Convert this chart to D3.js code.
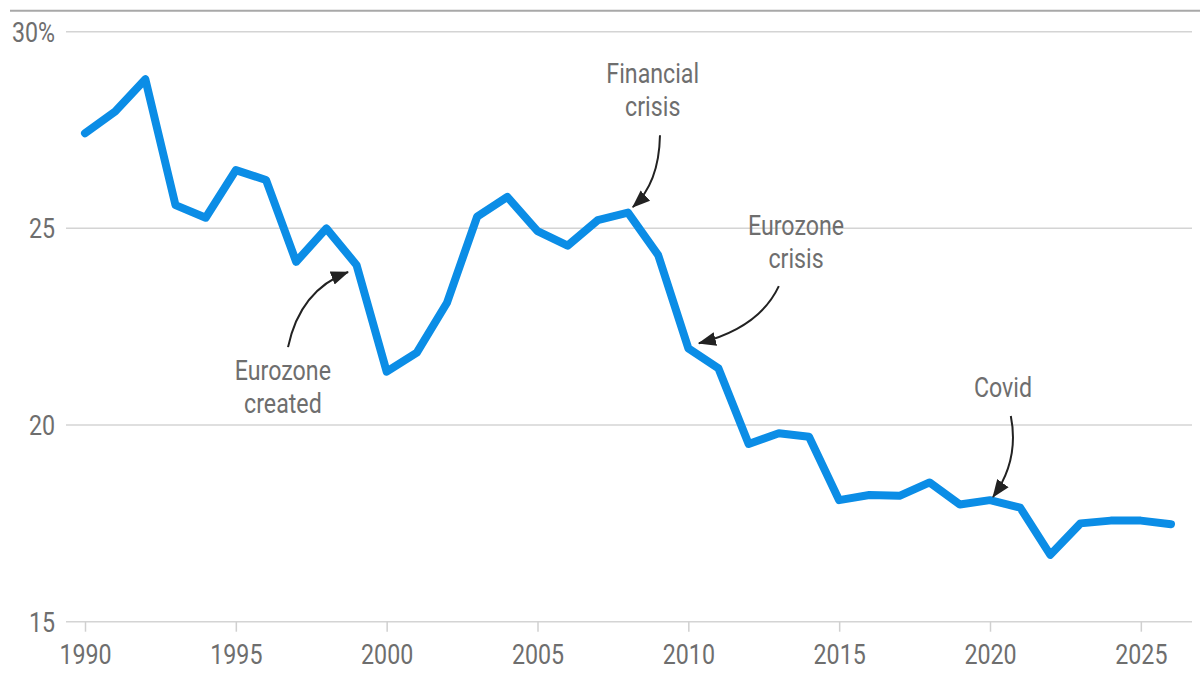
<!DOCTYPE html>
<html>
<head>
<meta charset="utf-8">
<script src="https://cdn.jsdelivr.net/npm/d3@7"></script>
<style>
  body { margin: 0; background: #fff; }
  svg { display: block; }
  text { font-family: Roboto, "Liberation Sans", sans-serif; fill: #6e6e6e; }
</style>
</head>
<body>
<svg id="chart" width="1200" height="675"></svg>
<script>
var years = d3.range(1990, 2027);
var values = [27.42, 27.97, 28.79, 25.59, 25.27, 26.48, 26.23, 24.15, 25.0, 24.07,
              21.36, 21.84, 23.11, 25.30, 25.80, 24.93, 24.56, 25.21, 25.40, 24.32,
              21.95, 21.44, 19.52, 19.79, 19.70, 18.09, 18.22, 18.20, 18.54, 17.98,
              18.09, 17.90, 16.70, 17.50, 17.57, 17.57, 17.48];

var yTicks = [15, 20, 25, 30];
var xTicks = [1990, 1995, 2000, 2005, 2010, 2015, 2020, 2025];

// annotation text + arrow (from, bend, to) in data units
var noteLabels = [["Financial", "crisis"], ["Eurozone", "crisis"], ["Eurozone", "created"], ["Covid"]];
var noteText = [[2008.82, 28.70], [2013.57, 24.83], [1996.56, 21.14], [2020.43, 20.71]];
var noteFrom = [[2009.06, 27.37], [2013.0, 23.53], [1996.73, 21.98], [2020.69, 20.23]];
var noteBend = [[2009.03, 26.15], [2012.35, 22.47], [1997.13, 23.43], [2020.98, 19.11]];
var noteTo   = [[2008.16, 25.54], [2010.35, 22.08], [1998.72, 23.89], [2020.10, 18.17]];

var squeeze = "scale(0.86,1)"; // fake a condensed face

var svg = d3.select("#chart");

var x = d3.scaleLinear().domain([1990, 2026]).range([85, 1171]);
var y = d3.scaleLinear().domain([15, 30]).range([621.7, 31.7]);

// top rule
svg.append("line")
  .attr("x1", 10).attr("x2", 1200)
  .attr("y1", 10.7).attr("y2", 10.7)
  .attr("stroke", "#a8a8a8").attr("stroke-width", 2);

// gridlines
svg.append("g").selectAll("line").data(yTicks).enter().append("line")
  .attr("x1", 66).attr("x2", 1192)
  .attr("y1", function(d) { return y(d); })
  .attr("y2", function(d) { return y(d); })
  .attr("stroke", "#d4d4d4").attr("stroke-width", 1.5);

// y labels
svg.append("g").selectAll("g").data(yTicks).enter().append("g")
  .attr("transform", function(d) { return "translate(55," + (y(d) + 10) + ")" + squeeze; })
  .append("text")
  .attr("text-anchor", "end")
  .style("font-size", "27px")
  .text(function(d) { return d == 30 ? "30%" : d; });

// x axis ticks + labels
var xAxis = d3.axisBottom(x)
  .tickValues(xTicks)
  .tickFormat(d3.format("d"))
  .tickSize(10)
  .tickPadding(13);

var gx = svg.append("g")
  .attr("transform", "translate(0," + y(15) + ")")
  .call(xAxis);
gx.select(".domain").remove();
gx.selectAll(".tick line").attr("stroke", "#d0d0d0").attr("stroke-width", 1.5);
gx.selectAll(".tick text")
  .attr("fill", "#6e6e6e")
  .attr("transform", squeeze)
  .style("font-family", "Roboto, \"Liberation Sans\", sans-serif")
  .style("font-size", "27px");

// the line
var line = d3.line()
  .x(function(d, i) { return x(years[i]); })
  .y(function(d) { return y(d); });

svg.append("path")
  .datum(values)
  .attr("d", line)
  .attr("fill", "none")
  .attr("stroke", "#0b8de6")
  .attr("stroke-width", 8)
  .attr("stroke-linejoin", "round")
  .attr("stroke-linecap", "round");

// arrowheads
svg.append("defs").append("marker")
  .attr("id", "head")
  .attr("markerUnits", "userSpaceOnUse")
  .attr("viewBox", "0 -8 18 16")
  .attr("refX", 17).attr("refY", 0)
  .attr("markerWidth", 18).attr("markerHeight", 16)
  .attr("orient", "auto")
  .append("path")
  .attr("d", "M0,-7L18,0L0,7Z")
  .attr("fill", "#222");

noteLabels.forEach(function(lines, i) {
  var f = noteFrom[i], b = noteBend[i], t = noteTo[i];
  svg.append("path")
    .attr("d", "M" + x(f[0]) + "," + y(f[1]) +
               "Q" + x(b[0]) + "," + y(b[1]) + " " + x(t[0]) + "," + y(t[1]))
    .attr("fill", "none")
    .attr("stroke", "#222")
    .attr("stroke-width", 2)
    .attr("marker-end", "url(#head)");

  var txt = svg.append("g")
    .attr("transform", "translate(" + x(noteText[i][0]) + "," + y(noteText[i][1]) + ")" + squeeze)
    .append("text")
    .attr("text-anchor", "middle")
    .style("font-size", "27px");
  lines.forEach(function(s, k) {
    txt.append("tspan")
      .attr("x", 0)
      .attr("y", k * 33)
      .text(s);
  });
});
</script>
</body>
</html>
